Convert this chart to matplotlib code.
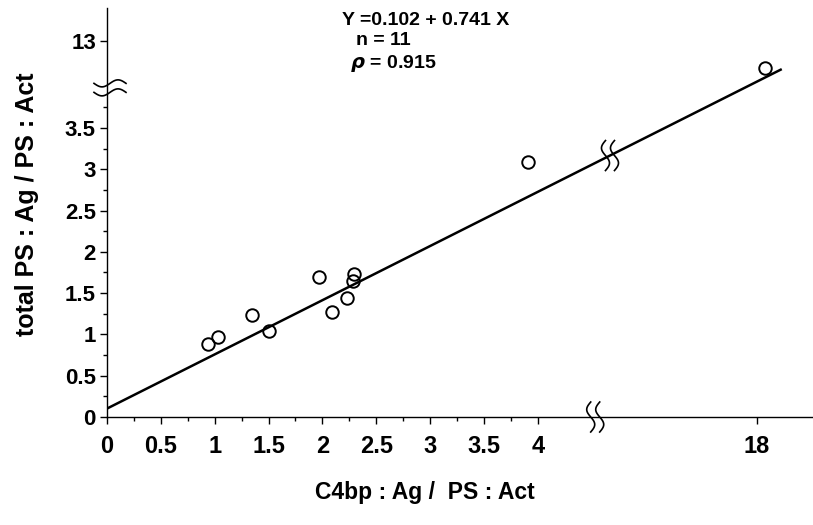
import numpy as np
import matplotlib.pyplot as plt
import matplotlib.transforms as mtransforms

plt.rcParams['font.family'] = ['Liberation Sans', 'DejaVu Sans']
plt.rcParams['font.weight'] = 'bold'
plt.rcParams['mathtext.fontset'] = 'dejavusans'

# values
c4bp_ratio = [0.94, 1.03, 1.35, 1.50, 1.97, 2.09, 2.23, 2.29, 2.28, 3.91, 18.07]
ps_ratio = [0.88, 0.97, 1.24, 1.04, 1.69, 1.27, 1.44, 1.73, 1.65, 3.09, 12.67]
fit_x = [0, 18.23]
fit_y = [0.102, 12.66]

x_ticks = [0, 0.5, 1, 1.5, 2, 2.5, 3, 3.5, 4, 18]
x_labels = ['0', '0.5', '1', '1.5', '2', '2.5', '3', '3.5', '4', '18']
y_ticks = [0, 0.5, 1, 1.5, 2, 2.5, 3, 3.5, 13]
y_labels = ['0', '0.5', '1', '1.5', '2', '2.5', '3', '3.5', '13']

# broken axes -> piecewise linear scales
x_knots = [-100, 4.531, 16.5, 100]
x_pos = [-100, 4.531, 4.535, 88.035]
y_knots = [-100, 3.983, 12.44, 100]
y_pos = [-100, 3.983, 3.992, 91.552]


def fx(x):
    return np.interp(x, x_knots, x_pos)


def ix(u):
    return np.interp(u, x_pos, x_knots)


def fy(y):
    return np.interp(y, y_knots, y_pos)


def iy(v):
    return np.interp(v, y_pos, y_knots)


W, H = 813, 525
fig = plt.figure(figsize=(W / 100, H / 100), dpi=100)
ax = fig.add_axes([107 / W, 108 / H, (W - 107) / W, 409 / H])
ax.set_xscale('function', functions=(fx, ix))
ax.set_yscale('function', functions=(fy, iy))
ax.set_xlim(0, 18.52)
ax.set_ylim(0, 13.4)

ax.plot(fit_x, fit_y, color='black', lw=1.8, solid_capstyle='butt')
ax.plot(c4bp_ratio, ps_ratio, 'o', ms=9, mfc='none', mec='black', mew=1.4)

for s in ['top', 'right']:
    ax.spines[s].set_visible(False)
for s in ['left', 'bottom']:
    ax.spines[s].set_linewidth(1.0)

ax.set_xticks(x_ticks)
ax.set_xticklabels(x_labels)
ax.set_xticks(np.arange(0.25, 4, 0.5), minor=True)
ax.set_yticks(y_ticks)
ax.set_yticklabels(y_labels)
ax.set_yticks(np.arange(0.25, 4, 0.5), minor=True)
ax.tick_params(which='major', length=5, width=1, direction='out')
ax.tick_params(which='minor', length=3, width=1, direction='out')
ax.tick_params(axis='x', which='major', pad=8, labelsize=17)
ax.tick_params(axis='y', which='major', pad=3, labelsize=16)


def squiggle(xd, yd, horizontal=False):
    t = np.linspace(-1, 1, 60)
    trans = fig.dpi_scale_trans + mtransforms.ScaledTranslation(xd, yd, ax.transData)
    for off in (-4.5, 4.5):
        if horizontal:
            px = 3 + 16 * t
            py = off + 3.5 * np.sin(np.pi * t)
        else:
            px = off - 4 * np.sin(np.pi * t)
            py = 15 * t
        ax.plot(px / 100, py / 100, color='black', lw=1.2, transform=trans, clip_on=False)


# breaks on the axes
squiggle(ix(4.533), 0)
squiggle(0, iy(3.985), horizontal=True)
# break on the fitted line
u0, u1 = fx(fit_x[0]), fx(fit_x[1])
v0, v1 = fy(fit_y[0]), fy(fit_y[1])
ub = 4.67
vb = v0 + (ub - u0) * (v1 - v0) / (u1 - u0)
squiggle(ix(ub), iy(vb))

fig.text(342 / W, 1 - 25 / H, 'Y =0.102 + 0.741 X', fontsize=14, ha='left', va='baseline')
fig.text(356 / W, 1 - 45 / H, 'n = 11', fontsize=14, ha='left', va='baseline')
fig.text(350 / W, 1 - 68 / H, r'$\rho$ = 0.915', fontsize=14, ha='left', va='baseline')

fig.text(27 / W, 1 - 204 / H, 'total PS : Ag / PS : Act', fontsize=18, rotation=90,
         ha='center', va='center')
fig.text(425 / W, 1 - 492 / H, 'C4bp : Ag /  PS : Act', fontsize=16.5, ha='center', va='center')

fig.savefig('out.png', dpi=100)
